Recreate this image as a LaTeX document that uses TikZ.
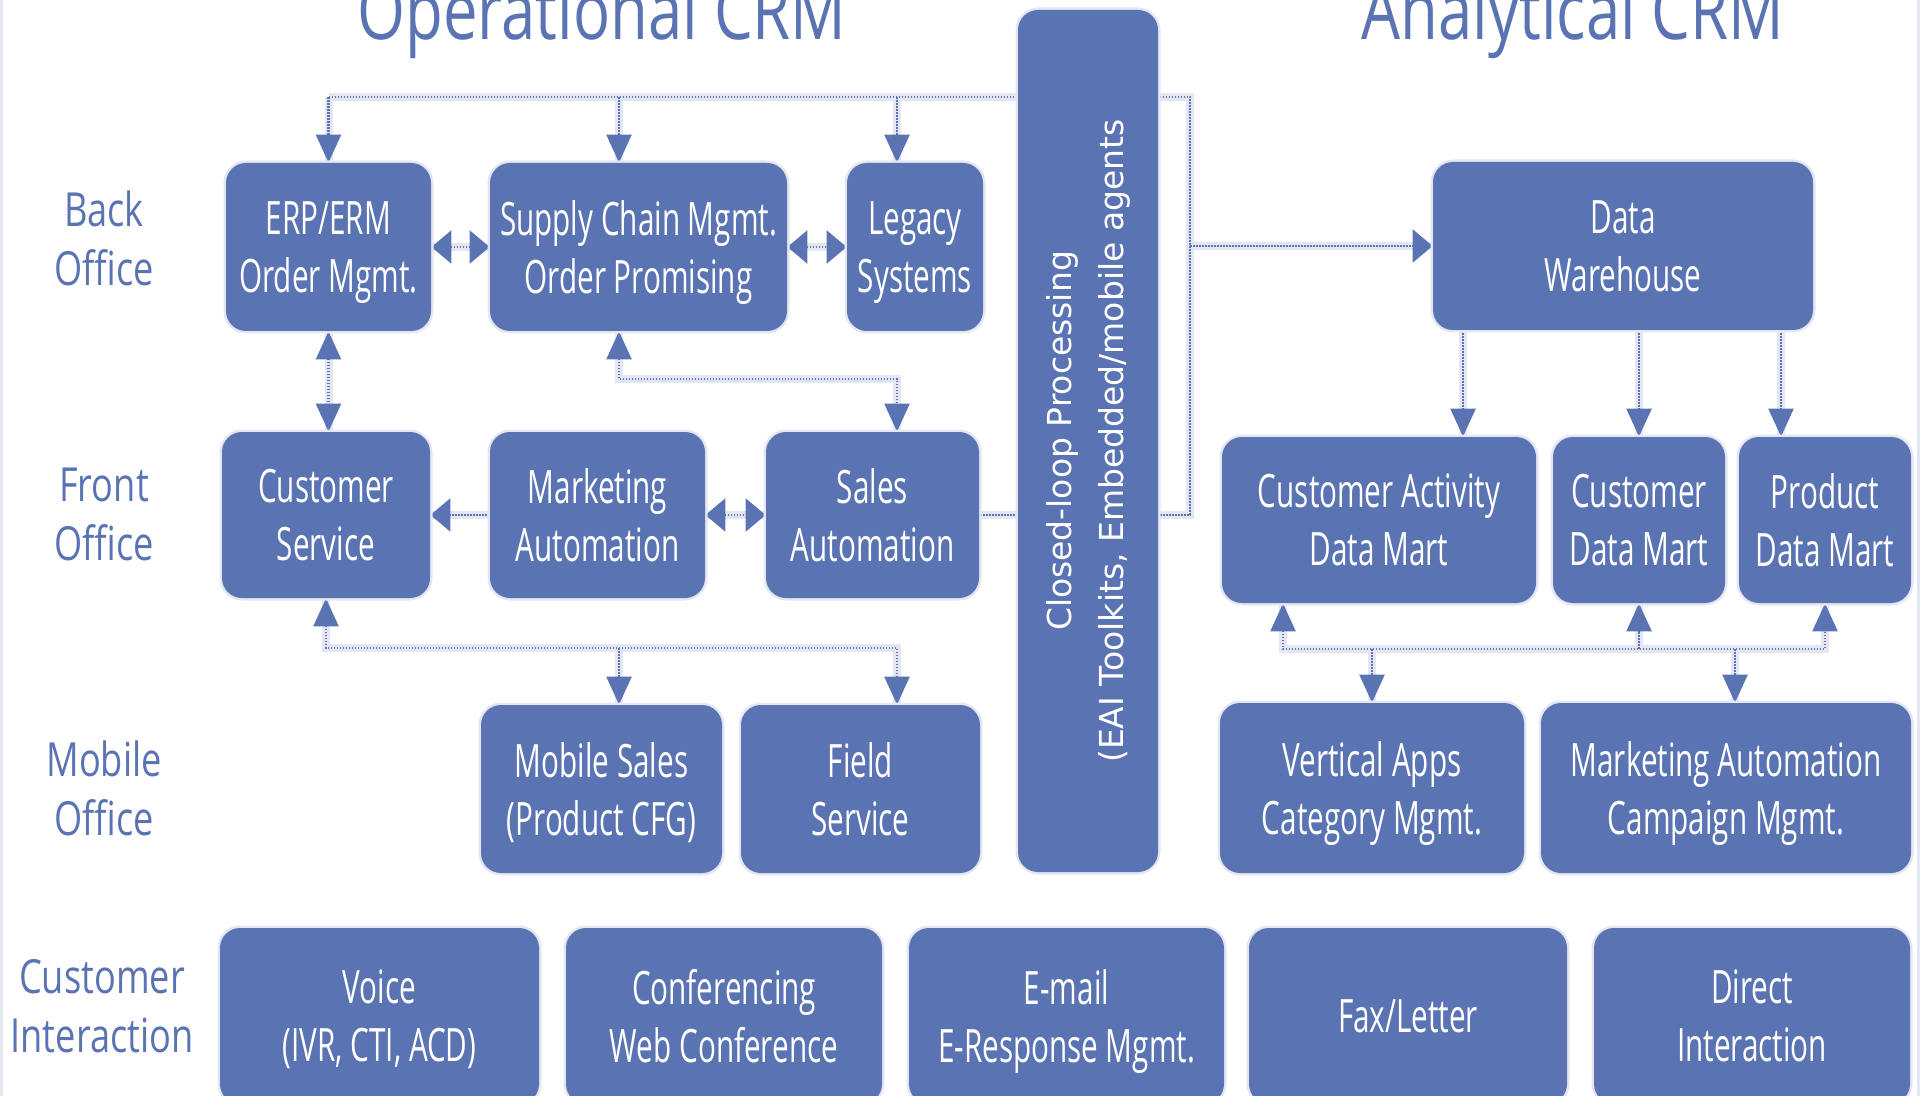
\documentclass[tikz,border=0pt]{standalone}
\usepackage{fontspec}
\usetikzlibrary{arrows.meta,calc}

\newfontfamily\boxfont{Open Sans}[FakeStretch=0.645]
\newfontfamily\labelfont{Open Sans}[FakeStretch=0.77]
\newfontfamily\barfont{DejaVu Sans}

\definecolor{crmblue}{HTML}{5A73B3}
\definecolor{halo}{HTML}{E4E7F3}

\pgfdeclarelayer{halos}
\pgfdeclarelayer{links}
\pgfsetlayers{halos,links,main}

\tikzset{
  vtip/.tip={Triangle[length=14pt,width=12.5pt]},
  htip/.tip={Triangle[length=10pt,width=16.5pt]},
  crmbox/.style={fill=crmblue, rounded corners=10pt, inner sep=0pt,
    text=white, align=center, text depth=0pt,
    font=\boxfont\fontsize{23}{29}\selectfont,
    preaction={draw=halo, line width=2.5pt}},
  rowlabel/.style={text=crmblue, align=center,
    font=\labelfont\fontsize{23.5}{29.5}\selectfont},
  heading/.style={text=crmblue, anchor=base,
    font=\labelfont\fontsize{40}{46}\selectfont},
  haloline/.style={draw=halo, line width=4pt},
  link/.style={draw=crmblue, line width=1.2pt, dash pattern=on 0.8pt off 0.7pt},
}

% a dotted connector with its soft halo underneath
\newcommand\crmlink[2]{%
  \begin{pgfonlayer}{halos}\draw[haloline,#1,-] #2;\end{pgfonlayer}%
  \begin{pgfonlayer}{links}\draw[link,#1] #2;\end{pgfonlayer}}

\begin{document}
\begin{tikzpicture}[x=0.5pt, y=-0.5pt]
\useasboundingbox (0,0) rectangle (1920,1096);
\clip (0,0) rectangle (1920,1096);

% side rules
\draw[halo, line width=1.5pt] (1,0) -- (1,1096);
\draw[halo, line width=1.5pt] (1918,0) -- (1918,1096);

% headings
\node[heading] (opTitle) at (602,40) {Operational CRM};
\node[heading] (anTitle) at (1573,40) {Analytical CRM};

% row labels
\node[rowlabel] (lbBack)   at (104,238)  {Back\\Office};
\node[rowlabel] (lbFront)  at (104,514)  {Front\\Office};
\node[rowlabel] (lbMobile) at (104,788)  {Mobile\\Office};
\node[rowlabel] (lbCust)   at (102,1006) {Customer\\Interaction};

% back office
\node[crmbox, minimum width=102.5pt, minimum height=84pt] (erp) at (328.5,247) {ERP/ERM\\Order Mgmt.};
\node[crmbox, minimum width=148.5pt, minimum height=84pt] (sc)  at (638.5,247) {Supply Chain Mgmt.\\Order Promising};
\node[crmbox, minimum width=68pt,    minimum height=84pt] (lg)  at (915,247)   {Legacy\\Systems};

% front office
\node[crmbox, minimum width=104pt,   minimum height=83pt] (cs) at (326,515)   {Customer\\Service};
\node[crmbox, minimum width=107.5pt, minimum height=83pt] (ma) at (597.5,515) {Marketing\\Automation};
\node[crmbox, minimum width=106.5pt, minimum height=83pt] (sa) at (872.5,515) {Sales\\Automation};

% mobile office
\node[crmbox, minimum width=120.5pt, minimum height=84pt] (ms) at (601.5,789) {Mobile Sales\\(Product CFG)};
\node[crmbox, minimum width=119.5pt, minimum height=84pt] (fs) at (860.5,789) {Field\\Service};

% closed-loop bar
\node[crmbox, minimum width=70pt, minimum height=431pt] (bar) at (1088,441) {};
\node[text=white, rotate=90, align=center, inner sep=0pt,
      font=\barfont\fontsize{16.5}{26}\selectfont] (barText) at (bar.center)
      {Closed-loop Processing\\(EAI Toolkits, Embedded/mobile agents};

% analytical side
\node[crmbox, minimum width=190pt, minimum height=84pt] (dw)   at (1623,246) {Data\\Warehouse};
\node[crmbox, minimum width=157pt, minimum height=83pt] (cadm) at (1379,520) {Customer Activity\\Data Mart};
\node[crmbox, minimum width=86pt,  minimum height=83pt] (cdm)  at (1639,520) {Customer\\Data Mart};
\node[crmbox, minimum width=86pt,  minimum height=83pt] (pdm)  at (1825,520) {Product\\Data Mart};
\node[crmbox, minimum width=152pt, minimum height=85pt] (va)   at (1372,788) {Vertical Apps\\Category Mgmt.};
\node[crmbox, minimum width=185pt, minimum height=85pt] (mac)  at (1726,788) {Marketing Automation\\Campaign Mgmt.};

% customer interaction channels
\node[crmbox, minimum width=159.5pt, minimum height=88pt] (voice)  at (379.5,1016) {Voice\\(IVR, CTI, ACD)};
\node[crmbox, minimum width=158pt,   minimum height=88pt] (conf)   at (724,1016)   {Conferencing\\Web Conference};
\node[crmbox, minimum width=157.5pt, minimum height=88pt] (email)  at (1066.5,1016) {E-mail\\E-Response Mgmt.};
\node[crmbox, minimum width=159pt,   minimum height=88pt] (fax)    at (1408,1016)  {Fax/Letter};
\node[crmbox, minimum width=158pt,   minimum height=88pt] (direct) at (1752,1016)  {Direct\\Interaction};

% connector waypoints
\coordinate (busTop)   at (0,97);
\coordinate (busMid)   at (0,379);
\coordinate (busLow)   at (0,648);
\coordinate (busRight) at (0,649);
\coordinate (riser)    at (1190,0);
\coordinate (scTop)   at ($(sc.north)+(-19.5,0)$);
\coordinate (lgTop)   at ($(lg.north)+(-18,0)$);
\coordinate (scBot)   at ($(sc.south)+(-19.5,0)$);
\coordinate (saTop)   at ($(sa.north)+(24.5,0)$);
\coordinate (msTop)   at ($(ms.north)+(17.5,0)$);
\coordinate (fsTop)   at ($(fs.north)+(36.5,0)$);
\coordinate (cadmTop) at ($(cadm.north)+(84,0)$);
\coordinate (pdmTop)  at ($(pdm.north)+(-44,0)$);
\coordinate (cadmBot) at ($(cadm.south)+(-96,0)$);
\coordinate (macTop)  at ($(mac.north)+(9,0)$);

% closed loop: top bus, riser behind the bar, back to sales automation
\crmlink{}{(erp.north |- busTop) -- (riser |- busTop) -- (riser |- sa.east) -- (sa.east)}
\crmlink{-vtip}{(erp.north |- busTop) -- (erp.north)}
\crmlink{-vtip}{(scTop |- busTop) -- (scTop)}
\crmlink{-vtip}{(lgTop |- busTop) -- (lgTop)}

% operational links
\crmlink{htip-htip}{(erp.east) -- (sc.west)}
\crmlink{htip-htip}{(sc.east) -- (lg.west)}
\crmlink{vtip-vtip}{(erp.south) -- (erp.south |- cs.north)}
\crmlink{vtip-vtip}{(scBot) -- (scBot |- busMid) -- (saTop |- busMid) -- (saTop)}
\crmlink{-htip}{(ma.west) -- (cs.east)}
\crmlink{htip-htip}{(ma.east) -- (sa.west)}
\crmlink{vtip-vtip}{(cs.south) -- (cs.south |- busLow) -- (fsTop |- busLow) -- (fsTop)}
\crmlink{-vtip}{(msTop |- busLow) -- (msTop)}

% analytical links
\crmlink{-htip}{(riser |- dw.west) -- (dw.west)}
\crmlink{-vtip}{(cadmTop |- dw.south) -- (cadmTop)}
\crmlink{-vtip}{(cdm.north |- dw.south) -- (cdm.north)}
\crmlink{-vtip}{(pdmTop |- dw.south) -- (pdmTop)}
\crmlink{vtip-vtip}{(cadmBot) -- (cadmBot |- busRight) -- (pdm.south |- busRight) -- (pdm.south)}
\crmlink{-vtip}{(cdm.south |- busRight) -- (cdm.south)}
\crmlink{-vtip}{(va.north |- busRight) -- (va.north)}
\crmlink{-vtip}{(macTop |- busRight) -- (macTop)}
\end{tikzpicture}
\end{document}
